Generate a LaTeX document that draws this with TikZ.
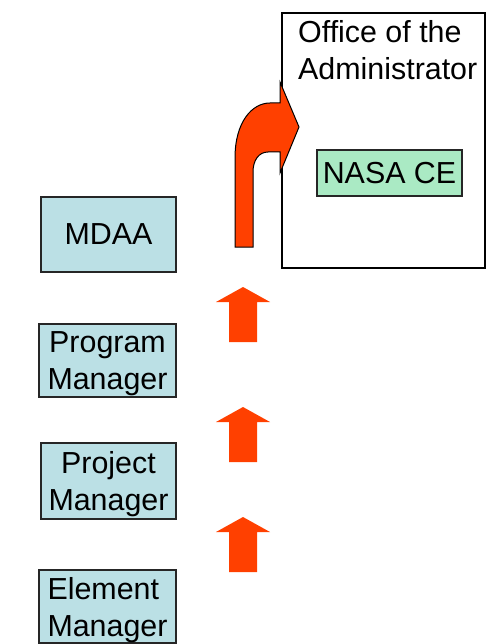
\documentclass[tikz,border=0pt]{standalone}
\usepackage{fontspec}
\setmainfont{Liberation Sans}
\definecolor{boxblue}{HTML}{BBE0E5}
\definecolor{boxgreen}{HTML}{AAEAC4}
\definecolor{arrowred}{HTML}{FF4000}
\tikzset{
  labelfont/.style={font=\fontsize{30.4}{37}\selectfont},
  bluebox/.style={draw=black!85, line width=1.4pt, fill=boxblue, inner sep=1pt, labelfont},
  twoline/.style={text depth=0pt},
  greenbox/.style={draw=black!85, line width=1.4pt, fill=boxgreen, inner sep=1pt, labelfont},
  officebox/.style={draw=black, line width=1.2pt, fill=white, inner sep=0pt},
  bentarrow/.style={fill=arrowred, draw=black, line width=1pt, line join=miter},
  uparr/.pic={
    \fill[arrowred] (0,0) -- (27,15) -- (14,15) -- (14,55) -- (-14,55) -- (-14,15) -- (-27,15) -- cycle;
  }
}
\begin{document}
\begin{tikzpicture}[x=1pt, y=-1pt]
  \useasboundingbox (0,0) rectangle (486,644);

  % office of the administrator, with the cost estimating office inside
  \node (office) [officebox, minimum width=203pt, minimum height=255pt] at (383.5,140.5) {};
  \node (title) [labelfont, anchor=base west, align=left, inner sep=0pt] at (298,80) {Office of the\\Administrator};
  \node (nasace) [greenbox, minimum width=145pt, minimum height=46pt] at (389.5,173) {NASA CE};

  % management chain
  \node (mdaa) [bluebox, minimum width=135pt, minimum height=75pt] at (108.5,234.5) {MDAA};
  \node (program) [bluebox, twoline, align=center, minimum width=137pt, minimum height=73pt] at (107.5,360.5) {Program\\Manager};
  \node (project) [bluebox, twoline, align=center, minimum width=135pt, minimum height=76pt] at (108.5,481) {Project\\Manager};
  \node (element) [bluebox, twoline, align=left, minimum width=137pt, minimum height=73pt] at (107.5,606.5) {Element\\Manager};

  % upward arrows between levels
  \pic at (243,287) {uparr};
  \pic at (243,407) {uparr};
  \pic at (243,517) {uparr};

  % bent arrow into the office
  \filldraw[bentarrow] (235,247) -- (235,158)
    .. controls (235,122) and (252,103) .. (270,103)
    -- (280,103) -- (280,82) -- (299,127) -- (280,173) -- (280,152) -- (268,152)
    .. controls (259,152) and (253,160) .. (253,172)
    -- (253,247) -- cycle;
\end{tikzpicture}
\end{document}
